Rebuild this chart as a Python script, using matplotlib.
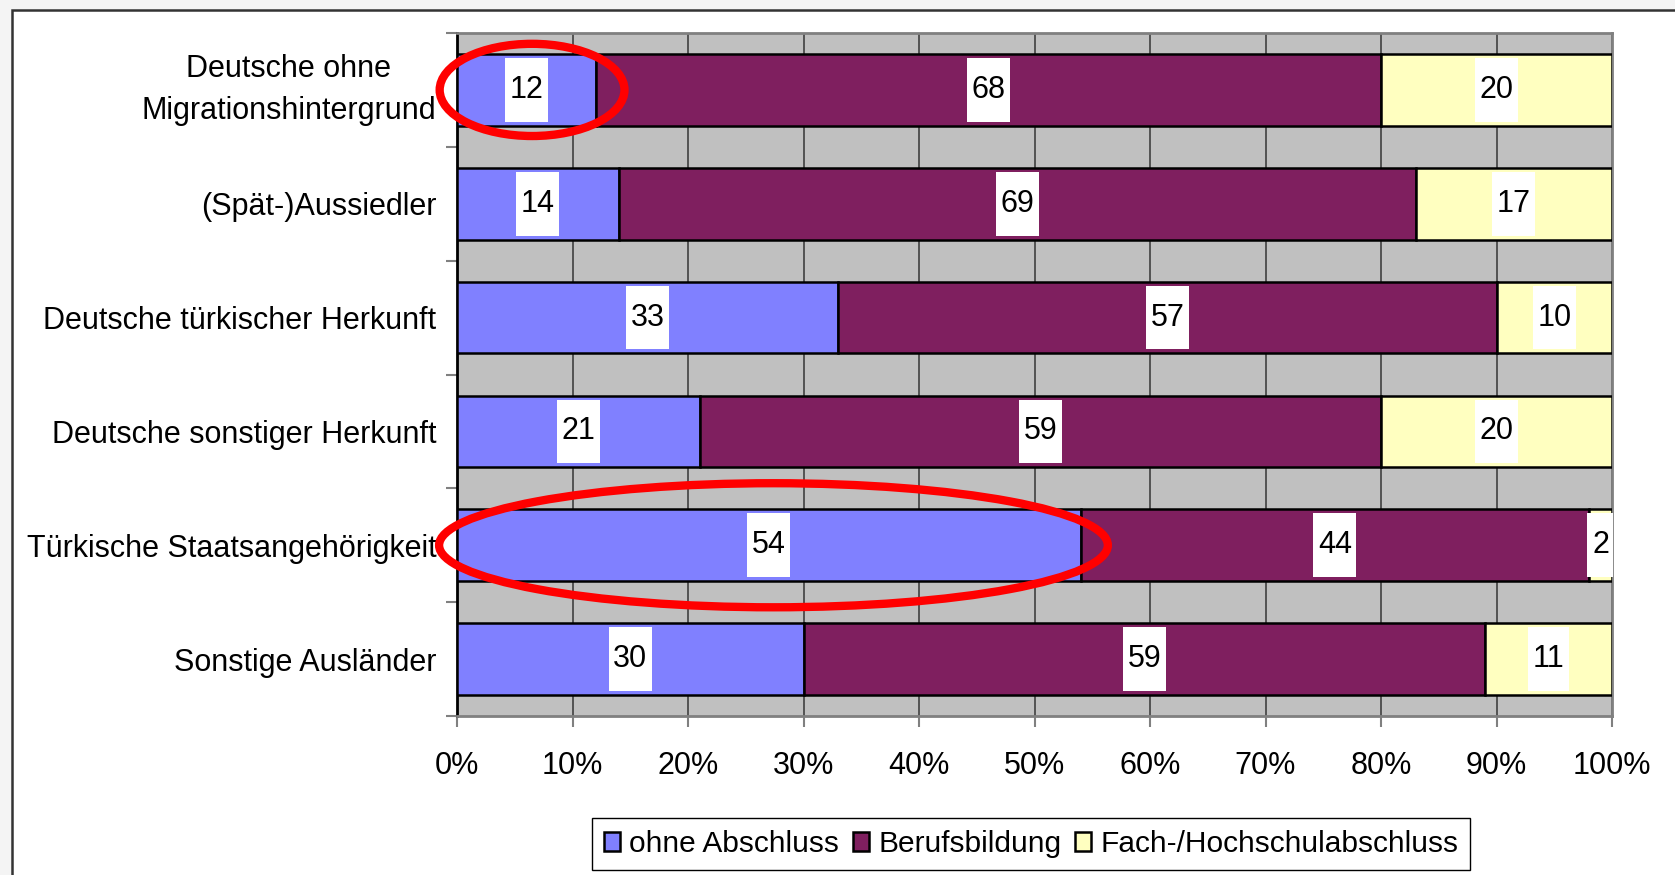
import numpy as np
import matplotlib.pyplot as plt
from matplotlib.patches import Rectangle, Ellipse
from matplotlib.path import Path

# Data
categories = ["Deutsche ohne\nMigrationshintergrund", "(Spät-)Aussiedler",
              "Deutsche türkischer Herkunft", "Deutsche sonstiger Herkunft",
              "Türkische Staatsangehörigkeit", "Sonstige Ausländer"]
ohne_abschluss = [12, 14, 33, 21, 54, 30]
berufsbildung = [68, 69, 57, 59, 44, 59]
hochschule = [20, 17, 10, 20, 2, 11]
series_names = ["ohne Abschluss", "Berufsbildung", "Fach-/Hochschulabschluss"]
series_colors = ["#8080FF", "#7F1F5F", "#FFFFC0"]
x_ticks = [0, 10, 20, 30, 40, 50, 60, 70, 80, 90, 100]

plt.rcParams['font.family'] = ['Liberation Sans', 'DejaVu Sans']
FS = 22


# white label box with separate x / y padding
def label_box(x0, y0, width, height, mutation_size):
    px = 0.15 * mutation_size
    py = 0.55 * mutation_size
    x0, y0 = x0 - px, y0 - py
    x1, y1 = x0 + width + 2 * px, y0 + height + 2 * py
    return Path([(x0, y0), (x1, y0), (x1, y1), (x0, y1), (x0, y0)], closed=True)


fig = plt.figure(figsize=(16.75, 8.75), dpi=100)
W, H = 1675, 875
fig.patches.append(Rectangle((0, 0), 1, 1, transform=fig.transFigure,
                             facecolor="#f4f4f4", edgecolor="none", zorder=-10))
fig.patches.append(Rectangle((12 / W, -0.05), 1.1, 1 - 10 / H + 0.05,
                             transform=fig.transFigure, facecolor="white",
                             edgecolor="#333333", linewidth=1.8, zorder=-9))

ax = fig.add_axes([457 / W, 1 - 716 / H, (1612 - 457) / W, (716 - 33) / H])
ax.set_facecolor("#C0C0C0")

y = np.arange(len(categories))
left = np.zeros(len(categories))
for vals, name, col in zip([ohne_abschluss, berufsbildung, hochschule],
                           series_names, series_colors):
    vals = np.array(vals, dtype=float)
    ax.barh(y, vals, left=left, height=0.63, color=col, edgecolor="black",
            linewidth=1.8, label=name, zorder=3)
    for yi, l, v in zip(y, left, vals):
        cx = l + v / 2
        if l + v >= 100 and v < 4:
            cx = 100 - v / 2
        ax.text(cx, yi, f"{int(v)}", ha="center", va="center", fontsize=FS,
                zorder=5, bbox=dict(boxstyle=label_box, facecolor="white",
                                    edgecolor="none"))
    left += vals

ax.set_xlim(0, 100)
ax.set_ylim(len(categories) - 0.5, -0.5)
ax.set_xticks(x_ticks)
ax.set_xticklabels([f"{t}%" for t in x_ticks], fontsize=FS)
ax.set_yticks(y)
ax.set_yticklabels(categories, fontsize=FS, multialignment="center",
                   linespacing=1.5)
ax.get_yticklabels()[0].set_va("center")
ax.set_yticks(np.arange(len(categories) + 1) - 0.5, minor=True)
ax.tick_params(axis="y", which="major", length=0, pad=15)
ax.tick_params(axis="y", which="minor", length=8, width=1.5, color="#808080")
ax.tick_params(axis="x", length=8, width=1.5, color="#808080", pad=17)
ax.grid(axis="x", color="#404040", linewidth=1.2, zorder=1)
ax.set_axisbelow(True)
for s in ["top", "right", "bottom"]:
    ax.spines[s].set_color("#808080")
    ax.spines[s].set_linewidth(2)
ax.spines["left"].set_color("black")
ax.spines["left"].set_linewidth(2)

# red highlight ellipses
ax.add_patch(Ellipse((6.5, 0), 16.0, 0.81, facecolor="none", edgecolor="red",
                     linewidth=6, zorder=6, clip_on=False))
ax.add_patch(Ellipse((27.4, 4), 57.9, 1.09, facecolor="none", edgecolor="red",
                     linewidth=6, zorder=6, clip_on=False))

fig.legend(loc="center", bbox_to_anchor=(1031 / W, 1 - 844 / H), ncol=3,
           fontsize=21.5, frameon=True, fancybox=False, edgecolor="black",
           handlelength=0.55, handleheight=0.65, handletextpad=0.3,
           columnspacing=0.45, borderpad=0.4, framealpha=1)

fig.savefig("out.png", dpi=100)
